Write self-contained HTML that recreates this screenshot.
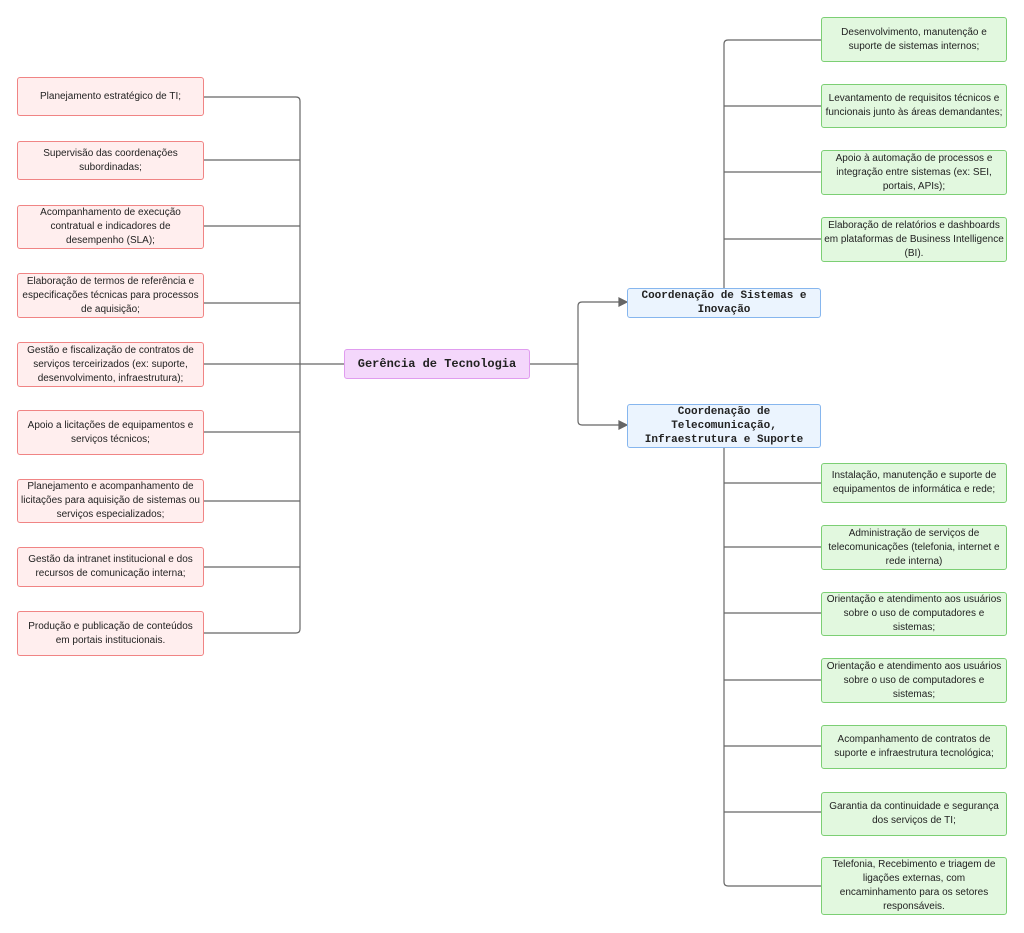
<!DOCTYPE html>
<html><head><meta charset="utf-8"><style>
body{margin:0;width:1024px;height:933px;background:#fff;position:relative;overflow:hidden;font-family:"Liberation Sans",sans-serif}
.b{position:absolute;box-sizing:border-box;border-radius:3px;display:flex;align-items:center;justify-content:center;text-align:center;font-size:10px;line-height:14px;color:#222;padding:0 2px}
.p{left:17px;width:187px;background:#ffeeee;border:1.5px solid #f08484}
.g{left:821px;width:186px;background:#e2f8df;border:1.5px solid #7ccf74}
.c{left:627px;width:194px;background:#ebf4fe;border:1.5px solid #86b6ee;font-family:"Liberation Mono",monospace;font-weight:bold;font-size:11px;line-height:14px}
svg{position:absolute;left:0;top:0}
</style></head><body>
<svg width="1024" height="933" fill="none" stroke="#666" stroke-width="1.2">
<path d="M204 97H296Q300 97 300 101V629Q300 633 296 633H204"/>
<path d="M204 160H300M204 226H300M204 303H300M204 364H344M204 432H300M204 501H300M204 567H300"/>
<path d="M529 364H578M620 302H582Q578 302 578 306V421Q578 425 582 425H620"/>
<path d="M724 288V44Q724 40 728 40H821M724 106H821M724 172H821M724 239H821"/>
<path d="M724 447V882Q724 886 728 886H821M724 483H821M724 547H821M724 613H821M724 680H821M724 746H821M724 812H821"/>
<path d="M619 298L627 302L619 306ZM619 421L627 425L619 429Z" fill="#666"/>
</svg>
<div class="b p" style="top:77px;height:39px">Planejamento estratégico de TI;</div>
<div class="b p" style="top:141px;height:39px">Supervisão das coordenações<br>subordinadas;</div>
<div class="b p" style="top:205px;height:44px">Acompanhamento de execução<br>contratual e indicadores de<br>desempenho (SLA);</div>
<div class="b p" style="top:273px;height:45px">Elaboração de termos de referência e especificações técnicas para processos de aquisição;</div>
<div class="b p" style="top:342px;height:45px">Gestão e fiscalização de contratos de serviços terceirizados (ex: suporte, desenvolvimento, infraestrutura);</div>
<div class="b p" style="top:410px;height:45px">Apoio a licitações de equipamentos e<br>serviços técnicos;</div>
<div class="b p" style="top:479px;height:44px">Planejamento e acompanhamento de licitações para aquisição de sistemas ou serviços especializados;</div>
<div class="b p" style="top:547px;height:40px">Gestão da intranet institucional e dos<br>recursos de comunicação interna;</div>
<div class="b p" style="top:611px;height:45px">Produção e publicação de conteúdos<br>em portais institucionais.</div>
<div class="b" style="left:344px;top:349px;width:186px;height:30px;background:#f4d7fb;border:1.5px solid #e09cef;font-family:'Liberation Mono',monospace;font-weight:bold;font-size:12px">Gerência de Tecnologia</div>
<div class="b c" style="top:288px;height:30px">Coordenação de Sistemas e<br>Inovação</div>
<div class="b c" style="top:404px;height:44px">Coordenação de<br>Telecomunicação,<br>Infraestrutura e Suporte</div>
<div class="b g" style="top:17px;height:45px">Desenvolvimento, manutenção e<br>suporte de sistemas internos;</div>
<div class="b g" style="top:84px;height:44px">Levantamento de requisitos técnicos e<br>funcionais junto às áreas demandantes;</div>
<div class="b g" style="top:150px;height:45px">Apoio à automação de processos e<br>integração entre sistemas (ex: SEI,<br>portais, APIs);</div>
<div class="b g" style="top:217px;height:45px">Elaboração de relatórios e dashboards<br>em plataformas de Business Intelligence<br>(BI).</div>
<div class="b g" style="top:463px;height:40px">Instalação, manutenção e suporte de<br>equipamentos de informática e rede;</div>
<div class="b g" style="top:525px;height:45px">Administração de serviços de<br>telecomunicações (telefonia, internet e<br>rede interna)</div>
<div class="b g" style="top:592px;height:44px">Orientação e atendimento aos usuários<br>sobre o uso de computadores e<br>sistemas;</div>
<div class="b g" style="top:658px;height:45px">Orientação e atendimento aos usuários<br>sobre o uso de computadores e<br>sistemas;</div>
<div class="b g" style="top:725px;height:44px">Acompanhamento de contratos de<br>suporte e infraestrutura tecnológica;</div>
<div class="b g" style="top:792px;height:44px">Garantia da continuidade e segurança<br>dos serviços de TI;</div>
<div class="b g" style="top:857px;height:58px">Telefonia, Recebimento e triagem de<br>ligações externas, com<br>encaminhamento para os setores<br>responsáveis.</div>
</body></html>
